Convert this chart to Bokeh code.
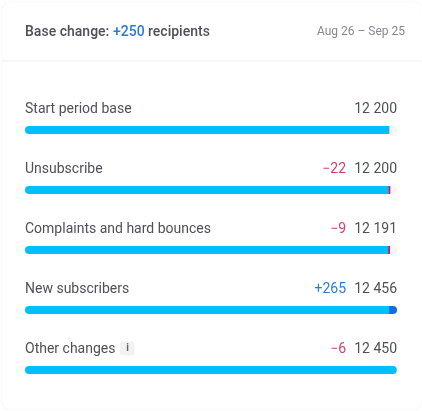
from bokeh.plotting import figure
from bokeh.models import Range1d, BoxAnnotation, ColumnDataSource
from bokeh.core.properties import value
from bokeh.embed import file_html
from bokeh.resources import INLINE

# --- data
labels = ["Start period base", "Unsubscribe", "Complaints and hard bounces", "New subscribers", "Other changes"]
totals = [12200, 12200, 12191, 12456, 12450]
total_labels = ["12 200", "12 200", "12 191", "12 456", "12 450"]
delta_labels = ["", "\u221222", "\u22129", "+265", "\u22126"]
fills = [12200, 12178, 12182, 12191, 12450]
red_rows = [1, 2]
red_at = [12200, 12191]
gain_row = [3]
gain_from = [12191]
gain_to = [12456]
full_scale = 12456
title_parts = ["Base change: ", "+250", " recipients"]
date_range = "Aug 26 \u2013 Sep 25"

W, H = 422, 411
LEFT, RIGHT = 25.5, 397.5
TEXT = "#4c5159"
BLUE = "#2b7bd6"
RED = "#d2406f"
BAR = "#00bfff"

unit = full_scale / (RIGHT - LEFT)
x_range = Range1d(-LEFT * unit, full_scale + (W - RIGHT) * unit)
# row 0 centred on pixel 130.5, rows 60 px apart
y_range = Range1d((H - 130.5) / 60, -130.5 / 60)

p = figure(width=W, height=H, x_range=x_range, y_range=y_range,
           toolbar_location=None, output_backend="svg", min_border=0)
p.styles = {"position": "fixed", "left": "-1px", "top": "-1px"}
p.xaxis.visible = False
p.yaxis.visible = False
p.xgrid.visible = False
p.ygrid.visible = False
p.outline_line_color = None
p.background_fill_color = "#ffffff"

def sy(y):
    return H - y

p.add_layout(BoxAnnotation(left=2, right=W, bottom=sy(410.5), top=sy(2),
                           left_units="screen", right_units="screen", bottom_units="screen", top_units="screen",
                           fill_color="#ffffff", fill_alpha=1, line_color="#eef0f2", line_width=1.5,
                           border_radius=9, level="underlay"))
p.add_layout(BoxAnnotation(left=2, right=W, bottom=sy(62), top=sy(61),
                           left_units="screen", right_units="screen", bottom_units="screen", top_units="screen",
                           fill_color="#eceff1", fill_alpha=1, line_color=None, level="underlay"))
# info badge
p.add_layout(BoxAnnotation(left=120.5, right=135, bottom=sy(356), top=sy(342),
                           left_units="screen", right_units="screen", bottom_units="screen", top_units="screen",
                           fill_color="#f1f2f3", fill_alpha=1, line_color=None, border_radius=3, level="underlay"))

rows = list(range(len(labels)))
BAR_H = 8 / 60
ROW_TEXT = -22.5

p.hbar(y=rows[:4], left=0, right=full_scale, height=BAR_H, fill_color="#f4f5f6", line_color=None, border_radius=4)
p.hbar(y=rows[:4], left=0, right=fills[:4], height=BAR_H, fill_color=BAR, line_color=None, border_radius=(4, 0, 0, 4))
p.hbar(y=rows[4:], left=0, right=fills[4:], height=BAR_H, fill_color=BAR, line_color=None, border_radius=4)
p.hbar(y=gain_row, left=gain_from, right=gain_to, height=BAR_H, fill_color="#0f6fe0", line_color=None, border_radius=(0, 4, 4, 0))
p.segment(x0=red_at, x1=red_at, y0=[r - BAR_H / 2 for r in red_rows], y1=[r + BAR_H / 2 for r in red_rows],
          line_color="#b03068", line_width=2)

FONT = value("Roboto")
src = ColumnDataSource(dict(y=rows, label=labels, total=total_labels))
p.text(x=0, y="y", text="label", source=src, y_offset=ROW_TEXT, text_font=FONT, text_font_size="14px",
       text_color=TEXT, text_baseline="middle", text_align="left")
p.text(x=full_scale, y="y", text="total", source=src, y_offset=ROW_TEXT, text_font=FONT, text_font_size="14px",
       text_color=TEXT, text_baseline="middle", text_align="right")
for color, idx in ((RED, [1, 2, 4]), (BLUE, [3])):
    p.text(x=full_scale, y=[rows[i] for i in idx], text=[delta_labels[i] for i in idx],
           x_offset=-51, y_offset=ROW_TEXT, text_font=FONT, text_font_size="14px",
           text_color=color, text_baseline="middle", text_align="right")
p.text(x=[(128 - LEFT) * unit], y=[4], text=["i"], y_offset=ROW_TEXT, text_font=FONT, text_font_size="10px",
       text_font_style="bold", text_color="#5f646b", text_baseline="middle", text_align="center")

# header
head_y = (31 - 130.5) / 60
HEAD = value("Roboto Medium")
xs = [0, (113.5 - LEFT) * unit, (148.5 - LEFT) * unit]
for t, x, c in zip(title_parts, xs, [TEXT, BLUE, TEXT]):
    p.text(x=[x], y=[head_y], text=[t.strip()], text_font=HEAD, text_font_size="14px", text_color=c,
           text_baseline="middle", text_align="left")
p.text(x=[(405.5 - LEFT) * unit], y=[head_y], text=[date_range], text_font=FONT, text_font_size="12px",
       text_color="#85898f", text_baseline="middle", text_align="right")

open("out.html", "w").write(file_html(p, INLINE))
